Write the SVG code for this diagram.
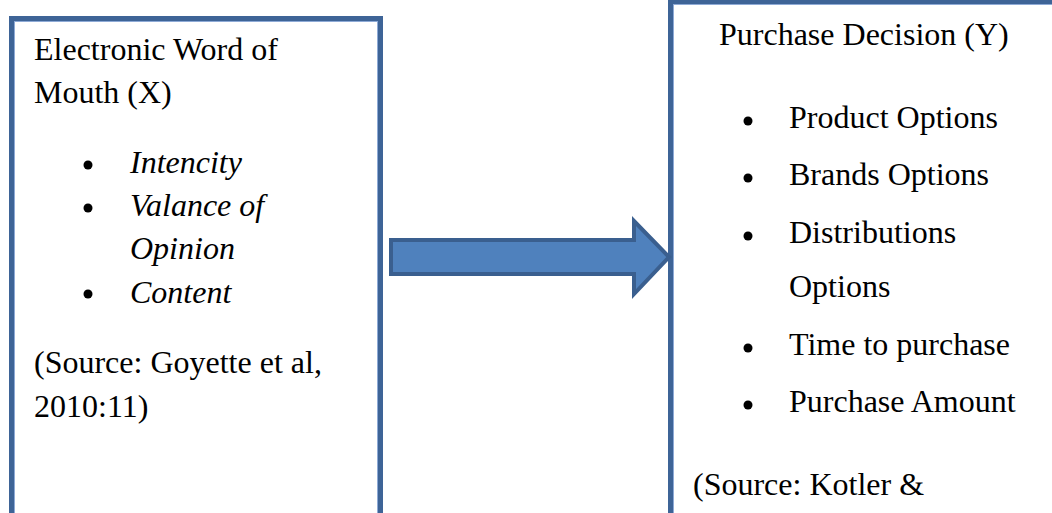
<svg xmlns="http://www.w3.org/2000/svg" width="1052" height="513" viewBox="0 0 1052 513">
<style>
.box{fill:#fff;stroke:#3e6497;stroke-width:5}
.inner{fill:none;stroke:#8eaad6;stroke-width:1}
text{font-family:"Liberation Serif","Times New Roman",serif;font-size:32px;fill:#000}
.it{font-style:italic}
.bul{fill:#000}
</style>
<g id="node-x">
<rect class="box" x="11.5" y="18.5" width="369" height="520"/>
<rect class="inner" x="14.5" y="21.5" width="363" height="520"/>
<text x="34" y="60">Electronic Word of</text>
<text x="34" y="103">Mouth (X)</text>
<circle class="bul" cx="88" cy="165" r="4.5"/>
<text class="it" x="130" y="173">Intencity</text>
<circle class="bul" cx="88" cy="208" r="4.5"/>
<text class="it" x="130" y="216">Valance of</text>
<text class="it" x="130" y="259">Opinion</text>
<circle class="bul" cx="88" cy="294" r="4.5"/>
<text class="it" x="130" y="303">Content</text>
<text x="34" y="373">(Source: Goyette et al,</text>
<text x="34" y="417">2010:11)</text>
</g>
<g id="node-y">
<rect class="box" x="670.5" y="1.5" width="400" height="540"/>
<rect class="inner" x="673.5" y="4.5" width="400" height="540"/>
<text x="719" y="45">Purchase Decision (Y)</text>
<circle class="bul" cx="748" cy="121" r="4.5"/>
<text x="789" y="128">Product Options</text>
<circle class="bul" cx="748" cy="178" r="4.5"/>
<text x="789" y="185">Brands Options</text>
<circle class="bul" cx="748" cy="236" r="4.5"/>
<text x="789" y="243">Distributions</text>
<text x="789" y="297">Options</text>
<circle class="bul" cx="748" cy="348" r="4.5"/>
<text x="789" y="355">Time to purchase</text>
<circle class="bul" cx="748" cy="405" r="4.5"/>
<text x="789" y="412">Purchase Amount</text>
<text x="693" y="495">(Source: Kotler &amp;</text>
</g>
<g id="connectors">
<path d="M391,240 L634,240 L634,221 L669,257 L634,294 L634,274 L391,274 Z" fill="#4f81bd" stroke="#3a5f8f" stroke-width="4" stroke-linejoin="miter"/>
</g>
</svg>
